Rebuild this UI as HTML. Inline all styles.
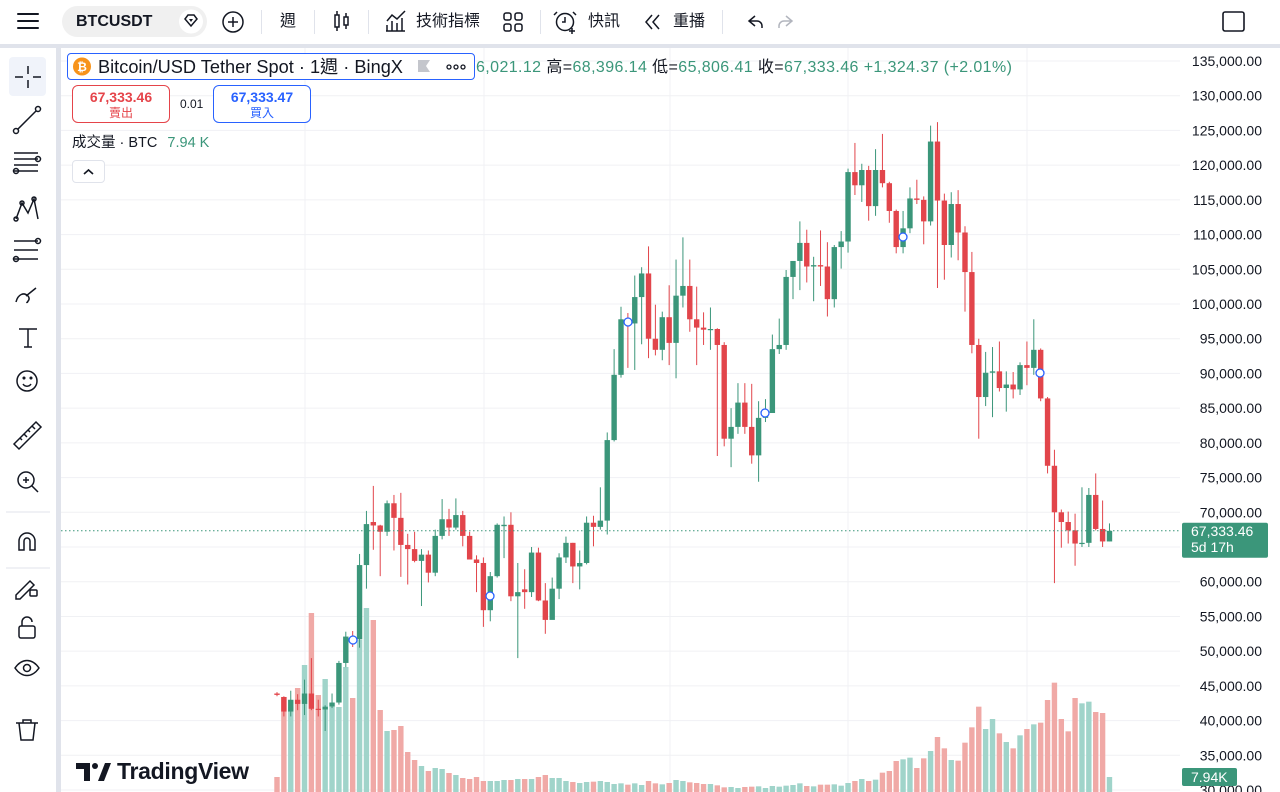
<!DOCTYPE html>
<html style="background:#fff"><head><meta charset="utf-8">
<style>
*{margin:0;padding:0;box-sizing:border-box}
html,body{width:1280px;height:792px;overflow:hidden}
body{background:#fff;font-family:"Liberation Sans","Noto Sans CJK TC",sans-serif;color:#131722;position:relative}
.abs{position:absolute}
#top{left:0;top:0;width:1280px;height:44px;background:#fff}
#left{left:0;top:48px;width:56px;height:744px;background:#fff;border-top-right-radius:4px}
#panel{left:61px;top:48px;width:1219px;height:744px;background:#fff;border-top-left-radius:4px;overflow:hidden}
.sep{position:absolute;top:10px;width:1px;height:24px;background:#e0e3eb}
.tt{position:absolute;top:12px;font-size:16px;line-height:20px}
</style></head><body>
<div class="abs" style="left:0;top:44px;width:1280px;height:4px;background:#e0e3eb"></div>
<div class="abs" style="left:56px;top:44px;width:5px;height:748px;background:#e0e3eb"></div>
<div id="top" class="abs">
<svg class="abs" style="left:0;top:0" width="1280" height="44">
 <g stroke="#131722" stroke-width="2" fill="none" stroke-linecap="round">
  <path d="M18 14h20M18 21h20M18 28h20"/>
 </g>
 <rect x="62" y="6" width="145" height="31" rx="15.5" fill="#f0f0f0"/>
 <circle cx="191" cy="21.5" r="12" fill="#fff"/>
 <path d="M185 19l3-4h6l3 4-6 7z" fill="none" stroke="#131722" stroke-width="1.5"/>
 <path d="M189 19h4l-2 3z" fill="#131722"/>
 <circle cx="233" cy="22" r="10" fill="none" stroke="#131722" stroke-width="1.5"/>
 <path d="M228 22h10M233 17v10" stroke="#131722" stroke-width="1.5"/>
 <g stroke="#131722" stroke-width="1.5" fill="none">
  <rect x="335" y="15" width="4" height="12"/><path d="M337 11v4M337 27v4"/>
  <rect x="344" y="17" width="4" height="8"/><path d="M346 13v4M346 25v4"/>
  <path d="M387 31V25M392 31V21M397 31V23M402 31V18M387 21l5-6 5 4 8-8" />
  <path d="M386 31h19"/>
  <rect x="504" y="13" width="7" height="7" rx="2"/><rect x="515" y="13" width="7" height="7" rx="2"/>
  <rect x="504" y="24" width="7" height="7" rx="2"/><rect x="515" y="24" width="7" height="7" rx="2"/>
  <circle cx="565" cy="22" r="8.5"/><path d="M565 17v5h-3M557 12l-3 3M573 12l3 3M572 28v6M569 31h6"/>
  <path d="M652 15l-6 7 6 7M659 15l-6 7 6 7"/>
  <path d="M755 16l-6 5 6 5M749 21h8a5 5 0 0 1 5 5v2"/>
 </g>
 <path d="M786 16l6 5-6 5M792 21h-8a5 5 0 0 0-5 5v2" stroke="#b2b5be" stroke-width="1.5" fill="none"/>
 <rect x="1223" y="12" width="21" height="19" rx="2" fill="none" stroke="#131722" stroke-width="1.6"/>
</svg>
<div class="tt" style="left:76px;font-weight:bold">BTCUSDT</div>
<div class="sep" style="left:261px"></div>
<div class="tt" style="left:280px">週</div>
<div class="sep" style="left:314px"></div>
<div class="sep" style="left:368px"></div>
<div class="tt" style="left:416px">技術指標</div>
<div class="sep" style="left:540px"></div>
<div class="tt" style="left:588px">快訊</div>
<div class="tt" style="left:673px">重播</div>
<div class="sep" style="left:722px"></div>
</div>
<div id="left" class="abs">
<svg width="56" height="744">
 <rect x="9" y="9" width="37" height="39" rx="4" fill="#f0f3fa"/>
 <g stroke="#131722" stroke-width="1.5" fill="none">
  <path d="M28 18v8M28 32v8M15 29h8M33 29h8"/>
  <circle cx="16" cy="83" r="2.5"/><circle cx="38" cy="61" r="2.5"/><path d="M18 81l18-18"/>
  <path d="M14 105h24M14 111h24M14 117h24M14 123h24"/><circle cx="38" cy="111" r="2.5"/><circle cx="16" cy="123" r="2.5"/>
  <path d="M16 171l6-16 6 10 6-14 4 20"/><circle cx="16" cy="171" r="2"/><circle cx="22" cy="155" r="2"/><circle cx="34" cy="151" r="2"/>
  <path d="M14 193h24M14 202h24M14 211h24"/><circle cx="16" cy="211" r="2.5"/><circle cx="38" cy="193" r="2.5"/>
  <path d="M16 254c2-8 8-10 12-6s-4 8 0 6M26 248l10-8"/>
  <path d="M19 281h18M28 281v18M24 299h8"/>
  <circle cx="27" cy="333" r="10"/><path d="M23 336c2 3 6 3 8 0"/><circle cx="24" cy="330" r=".8"/><circle cx="31" cy="330" r=".8"/>
  <path d="M14 396l22-22 5 5-22 22z M20 390l2 2M24 386l3 3M28 382l2 2M32 378l3 3"/>
  <circle cx="26" cy="432" r="8"/><path d="M32 438l6 6M23 432h6M26 429v6"/>
  <path d="M19 502v-9a8 8 0 0 1 16 0v9h-5v-9a3 3 0 0 0-6 0v9z"/>
  <path d="M16 547l14-14 4 4-14 14h-4z"/><rect x="30" y="542" width="7" height="6" rx="1"/>
  <rect x="19" y="578" width="16" height="12" rx="2"/><path d="M22 578v-4a5 5 0 0 1 10 0"/>
  <path d="M15 620c7-10 17-10 24 0-7 10-17 10-24 0z"/><circle cx="27" cy="620" r="3.5"/>
  <path d="M16 675h22M23 675v-3h8v3M19 675l2 17h12l2-17"/>
 </g>
 <path d="M6 464h44M6 520h44" stroke="#e0e3eb"/>
</svg>
</div>
<div id="panel" class="abs">
<svg id="ch" width="1219" height="744" style="position:absolute;left:0;top:0;display:block"></svg>
</div>
<!-- legend -->
<div class="abs" style="left:476px;top:58px;font-size:16px;letter-spacing:0.4px;line-height:19px;white-space:nowrap;color:#131722">
<span style="color:#3b967a">6,021.12</span> 高=<span style="color:#3b967a">68,396.14</span> 低=<span style="color:#3b967a">65,806.41</span> 收=<span style="color:#3b967a">67,333.46</span> <span style="color:#3b967a">+1,324.37 (+2.01%)</span></div>
<div class="abs" style="left:67px;top:53px;width:408px;height:27px;border:1.5px solid #2962ff;border-radius:4px;background:#fff"></div>
<svg class="abs" style="left:67px;top:53px" width="408" height="27">
 <circle cx="15" cy="13.5" r="9" fill="#f7931a"/>
 <text x="15" y="18" font-size="12" font-weight="bold" fill="#fff" text-anchor="middle" font-family="Liberation Sans">₿</text>
 <path d="M351 7h12l-4 6 4 6h-12z" fill="#c4c6cc"/>
 <circle cx="382" cy="14" r="2" fill="none" stroke="#131722" stroke-width="1.3"/>
 <circle cx="389" cy="14" r="2" fill="none" stroke="#131722" stroke-width="1.3"/>
 <circle cx="396" cy="14" r="2" fill="none" stroke="#131722" stroke-width="1.3"/>
</svg>
<div class="abs" style="left:98px;top:56px;font-size:18.2px;line-height:22px;white-space:nowrap">Bitcoin/USD Tether Spot · 1週 · BingX</div>
<div class="abs" style="left:72px;top:85px;width:98px;height:38px;border:1.3px solid #e5444a;border-radius:6px;background:#fff;text-align:center;color:#e5444a">
 <div style="font-size:14px;font-weight:bold;margin-top:3px;line-height:17px">67,333.46</div><div style="font-size:12px;line-height:14px">賣出</div></div>
<div class="abs" style="left:180px;top:97px;font-size:12px">0.01</div>
<div class="abs" style="left:213px;top:85px;width:98px;height:38px;border:1.3px solid #2962ff;border-radius:6px;background:#fff;text-align:center;color:#2962ff">
 <div style="font-size:14px;font-weight:bold;margin-top:3px;line-height:17px">67,333.47</div><div style="font-size:12px;line-height:14px">買入</div></div>
<div class="abs" style="left:72px;top:134px;font-size:14.5px;line-height:18px;white-space:nowrap">成交量 · BTC <span style="color:#3b967a;margin-left:6px">7.94 K</span></div>
<div class="abs" style="left:72px;top:160px;width:33px;height:23px;border:1px solid #e0e3eb;border-radius:4px;background:#fff"></div>
<svg class="abs" style="left:72px;top:160px" width="33" height="23"><path d="M12 14l4.5-4 4.5 4" stroke="#131722" stroke-width="1.6" fill="none"/></svg>
<!-- logo -->
<svg class="abs" style="left:74px;top:757px" width="190" height="30">
 <path d="M2 6h14v18h-6V12H2z" fill="#131722"/><circle cx="21" cy="9" r="3" fill="#131722"/><path d="M24 24l7-18h6l-7 18z" fill="#131722"/>
 <text x="43" y="22" font-size="23" font-weight="bold" fill="#131722" font-family="Liberation Sans" letter-spacing="-0.3">TradingView</text>
</svg>
<script>
var D=[[43.9,44.1,43.5,43.7],[43.4,43.5,40.6,41.3],[41.3,44.3,40.6,43.0],[43.0,43.8,41.5,42.4],[42.4,45.9,40.8,43.9],[43.9,49.0,41.5,41.7],[41.7,43.0,40.6,41.6],[41.6,42.2,38.5,42.0],[42.0,43.9,41.8,42.6],[42.6,48.6,42.3,48.3],[48.3,52.8,47.7,52.1],[52.1,52.9,50.6,51.7],[51.7,64.0,50.5,62.4],[62.4,70.2,59.0,68.3],[68.6,73.8,64.6,68.1],[68.1,68.2,60.8,67.2],[67.2,71.7,66.6,71.3],[71.3,72.5,64.5,69.2],[69.2,72.8,60.7,65.3],[65.3,66.9,59.6,64.7],[64.7,67.2,62.8,63.0],[63.0,64.7,56.5,63.9],[63.9,64.5,59.9,61.3],[61.3,67.5,60.8,66.6],[66.6,71.9,66.1,69.0],[69.0,70.5,66.6,67.8],[67.8,72.0,67.5,69.6],[69.6,70.2,65.1,66.6],[66.6,67.2,63.4,63.2],[63.2,63.8,58.5,62.7],[62.7,63.5,53.5,55.9],[55.9,61.4,54.3,60.8],[60.8,68.4,60.6,68.2],[68.0,69.4,63.4,68.2],[68.2,70.0,57.2,57.9],[57.9,62.7,49.0,58.5],[58.9,61.8,56.1,58.5],[58.5,65.0,57.8,64.2],[64.2,64.9,57.2,57.3],[57.3,59.8,52.5,54.5],[54.5,60.6,54.6,59.0],[59.0,64.1,57.5,63.5],[63.5,66.5,62.7,65.6],[65.6,65.6,59.8,62.2],[62.2,64.5,58.9,62.7],[62.7,69.4,62.5,68.5],[68.5,69.5,65.1,67.9],[67.9,73.6,67.5,68.8],[68.8,81.5,66.8,80.4],[80.4,93.5,80.2,89.8],[89.8,99.6,89.4,97.8],[97.8,98.7,90.8,97.2],[97.2,104.1,90.5,101.0],[101.0,105.3,94.2,104.4],[104.4,108.3,92.2,95.0],[95.0,99.9,92.6,93.4],[93.4,98.9,91.9,98.1],[98.1,102.7,91.2,94.4],[94.4,106.4,89.3,101.2],[101.2,109.6,99.5,102.6],[102.6,106.4,96.0,97.8],[97.8,102.5,91.2,96.6],[96.6,98.8,94.1,96.3],[96.3,99.5,93.4,96.4],[96.4,96.5,78.1,94.1],[94.1,94.5,79.5,80.6],[80.6,85.0,76.5,82.3],[82.3,88.6,81.3,85.8],[85.8,88.6,81.3,82.3],[82.3,88.5,77.0,78.2],[78.2,86.0,74.4,83.6],[83.6,86.3,83.0,84.3],[84.3,95.6,84.5,93.5],[93.5,97.9,92.8,94.1],[94.1,104.9,93.4,103.9],[103.9,105.8,100.7,106.2],[106.2,111.9,102.0,108.8],[108.8,110.7,103.1,105.4],[105.4,106.8,100.4,105.6],[105.6,110.6,102.6,105.4],[105.4,108.9,98.2,100.7],[100.7,108.5,99.5,108.2],[108.2,110.5,105.1,109.0],[109.0,119.5,107.4,119.0],[119.0,123.2,115.7,117.1],[117.1,120.2,114.7,119.3],[119.3,119.9,112.0,114.1],[114.1,122.3,112.7,119.3],[119.3,124.5,116.8,117.4],[117.4,117.6,111.7,113.4],[113.4,113.6,107.3,108.2],[108.2,113.4,107.3,110.9],[110.9,116.8,110.2,115.2],[115.2,117.9,114.4,115.0],[115.0,115.5,108.6,111.9],[111.9,125.7,111.3,123.4],[123.4,126.2,102.3,114.9],[114.9,115.9,103.5,108.5],[108.5,116.1,106.7,114.4],[114.4,116.4,106.3,110.3],[110.3,111.2,98.9,104.6],[104.6,107.5,92.9,94.1],[94.1,95.0,80.6,86.6],[86.6,93.1,85.3,90.1],[90.1,93.8,83.7,90.3],[90.3,94.6,87.4,87.9],[87.9,90.3,84.5,88.4],[88.4,90.2,86.4,87.7],[87.7,91.6,86.9,91.2],[91.2,94.6,88.3,90.8],[90.8,97.8,89.8,93.4],[93.4,93.6,86.0,86.4],[86.4,86.6,75.6,76.7],[76.7,79.0,59.8,70.0],[70.0,70.4,64.9,68.6],[68.6,70.1,65.5,67.4],[67.4,69.8,62.3,65.5],[65.5,73.6,65.0,65.6],[65.6,73.5,65.0,72.5],[72.5,75.6,67.4,67.6],[67.6,71.7,65.0,65.8],[65.8,68.4,65.8,67.33]];
var V1=[15,95,85,104,127,179,97,113,85,85,125,94,152,184,172,82,61,62,66,40,32,26,21,24,23,19,17,14,13,15,11,11,11,12,12,13,13,13,15,17,14,14,11,10,9,10];
var Z=[335,333,336,342,340,344,340,345,333,340,343,339,330,333,337,339,342,342,346,352,351,354,351,350,349,354,348,350,347,345,340,348,349,344,344,343,347,339,333,327,333,329,308,303,273,268,263,294,265,243,201,235,270,272,218,172,110,177,147,190,216,235,196,177,163,158,90,38,147,184,84,100,95,126,129,321];
var V=V1.concat(Z.map(function(z){return 122-z/3;}));
var OX=61,OY=48;
function Y(p){return 61+(135-p)*6.943-OY;}
function X(i){return 277+i*6.88-OX;}
var s='';
var vx=[305,484,670,848,1027];
vx.forEach(function(x){s+='<line x1="'+(x-OX)+'" y1="0" x2="'+(x-OX)+'" y2="744" stroke="#f0f1f4" stroke-width="1"/>';});
for(var p=135;p>=30;p-=5){var y=Y(p);s+='<line x1="0" y1="'+y+'" x2="1119" y2="'+y+'" stroke="#f0f1f4" stroke-width="1"/>';}
var G='#3b967a',R='#e2454b';
for(var i=0;i<D.length;i++){var d=D[i];var up=d[3]>=d[0];var h=V[i];
 s+='<rect x="'+(X(i)-2.7)+'" y="'+(744-h)+'" width="5.4" height="'+h+'" fill="'+(up?'#a0d4ca':'#f0a9a6')+'"/>';}
for(var i=0;i<D.length;i++){var d=D[i];var up=d[3]>=d[0];var c=up?G:R;var x=X(i);
 var t=Y(Math.max(d[0],d[3])),b=Y(Math.min(d[0],d[3]));if(b-t<1.2){b=t+1.2;}
 s+='<line x1="'+x+'" y1="'+Y(d[1])+'" x2="'+x+'" y2="'+Y(d[2])+'" stroke="'+c+'" stroke-width="1"/>';
 s+='<rect x="'+(x-2.7)+'" y="'+t+'" width="5.4" height="'+(b-t)+'" fill="'+c+'"/>';}
s+='<line x1="0" y1="'+Y(67.333)+'" x2="1119" y2="'+Y(67.333)+'" stroke="#3b967a" stroke-width="1" stroke-dasharray="1.5 2.5"/>';
[[353,640],[490,596],[628,322],[765,413],[903,237],[1040,373]].forEach(function(m){s+='<circle cx="'+(m[0]-OX)+'" cy="'+(m[1]-OY)+'" r="4" fill="#fff" stroke="#2962ff" stroke-width="1.3"/>';});
s+='<rect x="1119" y="0" width="100" height="744" fill="#fff"/>';
for(var p=135;p>=30;p-=5){var y=Y(p);if(p==65)continue;var t=(p*1000).toLocaleString('en-US')+'.00';
 s+='<text x="1201" y="'+(y+5)+'" font-size="14" text-anchor="end" fill="#131722" font-family="Liberation Sans">'+t+'</text>';}
var py=Y(67.333);
s+='<rect x="1121" y="'+(py-8)+'" width="86" height="35" rx="2" fill="#3b967a"/>';
s+='<text x="1130" y="'+(py+5)+'" font-size="14" fill="#fff" font-family="Liberation Sans">67,333.46</text>';
s+='<text x="1130" y="'+(py+21)+'" font-size="14" fill="#fff" font-family="Liberation Sans">5d 17h</text>';
s+='<rect x="1121" y="720" width="55" height="18" rx="2" fill="#3b967a"/>';
s+='<text x="1130" y="734" font-size="14" fill="#fff" font-family="Liberation Sans">7.94K</text>';
document.getElementById('ch').innerHTML=s;
</script>
</body></html>
